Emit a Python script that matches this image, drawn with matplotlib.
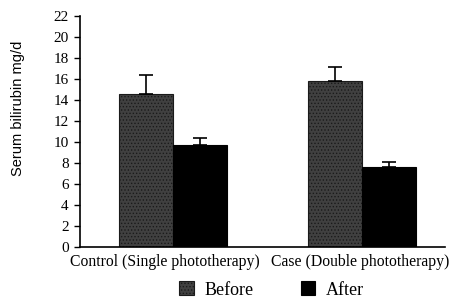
import matplotlib
matplotlib.use('Agg')
import matplotlib.pyplot as plt
import numpy as np

groups = ['Control (Single phototherapy)', 'Case (Double phototherapy)']
before = [14.6, 15.8]
before_err = [1.8, 1.3]
after = [9.7, 7.6]
after_err = [0.7, 0.5]
yticks = [0, 2, 4, 6, 8, 10, 12, 14, 16, 18, 20, 22]

plt.rcParams['hatch.color'] = '#8a8a8a'
plt.rcParams['hatch.linewidth'] = 0.6

fig = plt.figure(figsize=(4.49, 3.05), dpi=100)
ax = fig.add_axes([0.178, 0.19, 0.813, 0.758])

x = np.arange(len(groups))
w = 0.286
ax.bar(x - w/2, before, w, color='#404040', hatch='.....', edgecolor='#1a1a1a', linewidth=0.8, label='Before')
ax.bar(x + w/2, after, w, color='black', edgecolor='black', linewidth=0.8, label='After')
ax.errorbar(x - w/2, before, yerr=[[0]*2, before_err], fmt='none', ecolor='black', capsize=5, elinewidth=1.2, capthick=1.2)
ax.errorbar(x + w/2, after, yerr=[[0]*2, after_err], fmt='none', ecolor='black', capsize=5, elinewidth=1.2, capthick=1.2)

ax.set_xlim(-0.492, 1.439)
ax.set_ylim(0, 22)
ax.set_yticks(yticks)
ax.set_yticklabels([str(t) for t in yticks], family='Liberation Serif', fontsize=11)
ax.set_xticks([-0.04, 0.99])
ax.set_xticklabels(groups, family='Liberation Serif', fontsize=11.3)
ax.tick_params(axis='x', length=0, pad=5)
ax.tick_params(axis='y', length=4, width=1, pad=4)
for s in ['top', 'right']:
    ax.spines[s].set_visible(False)
ax.spines['left'].set_linewidth(1.2)
ax.spines['bottom'].set_linewidth(1.2)

fig.text(0.04, 1 - 108/305, 'Serum bilirubin mg/d', rotation=90, ha='center', va='center',
         family='Liberation Sans', fontsize=10.5)

leg = fig.legend(loc='center', bbox_to_anchor=(0.605, 1 - 290/305), ncol=2, frameon=False,
                 prop={'family': 'Liberation Serif', 'size': 13}, handlelength=0.8, handleheight=0.8,
                 columnspacing=2.6, handletextpad=0.6)

fig.savefig('out.png', dpi=100)
